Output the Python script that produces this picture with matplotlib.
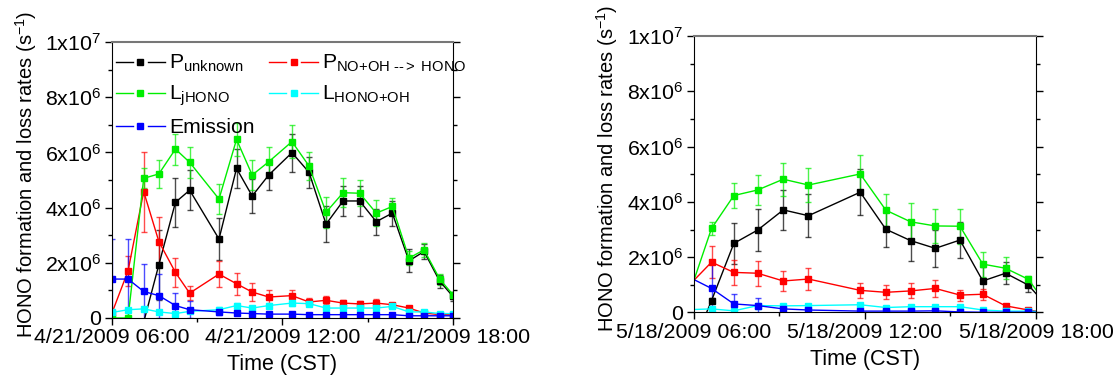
import matplotlib
matplotlib.use("Agg")
import matplotlib.pyplot as plt
import matplotlib.dates as mdates
from matplotlib.colors import to_rgba
from matplotlib.legend_handler import HandlerLine2D
from matplotlib.lines import Line2D
from matplotlib.ticker import FuncFormatter, MultipleLocator
import numpy as np
import pandas as pd

plt.rcParams['font.family'] = ['Liberation Sans', 'DejaVu Sans']
plt.rcParams['mathtext.fontset'] = 'custom'
plt.rcParams['mathtext.rm'] = 'Liberation Sans'
plt.rcParams['mathtext.it'] = 'Liberation Sans:italic'
plt.rcParams['mathtext.bf'] = 'Liberation Sans:bold'

## 21 April 2009 (rates in 1e6 s^-1)
day_a = "2009-04-21"
times_a = ["06:00", "06:34", "07:07", "07:39", "08:14", "08:44", "09:46", "10:23",
           "10:56", "11:31", "12:20", "12:56", "13:32", "14:08", "14:43", "15:18",
           "15:52", "16:27", "16:59", "17:32", "18:00"]
unknown_a = [-1.40, -2.80, -0.15, 1.93, 4.19, 4.63, 2.86, 5.42, 4.42, 5.18, 5.99,
             5.28, 3.40, 4.24, 4.24, 3.49, 3.80, 2.07, 2.41, 1.33, 0.78]
unknown_a_err = [0, 0, 0, 1.27, 0.90, 0.73, 0.77, 0.70, 0.63, 0.56, 0.69,
                 0.57, 0.65, 0.53, 0.53, 0.47, 0.45, 0.42, 0.27, 0.24, 0.15]
no_oh_a = [0.18, 1.71, 4.58, 2.77, 1.65, 0.90, 1.59, 1.24, 0.94, 0.76, 0.81,
           0.58, 0.64, 0.54, 0.51, 0.54, 0.48, 0.36, 0.18, 0.12, 0.12]
no_oh_a_err = [0.05, 0.54, 1.45, 0.90, 0.54, 0.26, 0.48, 0.40, 0.33, 0.24, 0.22,
               0.16, 0.15, 0.12, 0.12, 0.14, 0.08, 0.06, 0.04, 0.03, 0.03]
jhono_a = [0.0, 0.0, 5.06, 5.22, 6.12, 5.64, 4.31, 6.47, 5.18, 5.66, 6.39,
           5.51, 3.83, 4.54, 4.52, 3.80, 4.04, 2.17, 2.47, 1.41, 0.84]
jhono_a_err = [0, 0, 0.36, 0.50, 0.56, 0.56, 0.54, 0.60, 0.54, 0.54, 0.60,
               0.51, 0.57, 0.53, 0.48, 0.48, 0.30, 0.24, 0.26, 0.20, 0.10]
hono_oh_a = [0.20, 0.30, 0.33, 0.22, 0.16, 0.24, 0.30, 0.45, 0.36, 0.45, 0.54,
             0.52, 0.36, 0.36, 0.36, 0.36, 0.42, 0.22, 0.22, 0.16, 0.16]
hono_oh_a_err = [0.06, 0.06, 0.06, 0.06, 0.05, 0.06, 0.08, 0.1, 0.08, 0.1, 0.1,
                 0.1, 0.08, 0.08, 0.08, 0.08, 0.08, 0.06, 0.05, 0.04, 0.04]
emis_a = [1.41, 1.41, 0.96, 0.81, 0.45, 0.30, 0.22, 0.18, 0.16, 0.14, 0.14,
          0.12, 0.12, 0.12, 0.12, 0.12, 0.12, 0.08, 0.08, 0.08, 0.08]
emis_a_err = [1.45, 1.45, 1.00, 0.80, 0.45, 0.30, 0.10, 0.08, 0.06, 0.05, 0.05,
              0.04, 0.04, 0.04, 0.04, 0.04, 0.04, 0.03, 0.03, 0.03, 0.03]

## 18 May 2009
day_b = "2009-05-18"
times_b = ["05:45", "06:37", "07:24", "08:14", "09:08", "10:01", "11:50", "12:44",
           "13:36", "14:28", "15:20", "16:08", "16:56", "17:44", "18:20"]
unknown_b = [-1.71, 0.43, 2.50, 2.98, 3.71, 3.50, 4.35, 3.01, 2.60, 2.32, 2.62,
             1.14, 1.42, 0.99, 0.30]
unknown_b_err = [0, 0.10, 0.73, 0.76, 0.72, 0.77, 0.83, 0.63, 0.75, 0.66, 0.66,
                 0.50, 0.39, 0.26, 0]
no_oh_b = [0.90, 1.82, 1.45, 1.42, 1.14, 1.21, 0.80, 0.73, 0.78, 0.87, 0.63,
           0.66, 0.24, 0.09, 0.0]
no_oh_b_err = [0, 0.58, 0.45, 0.45, 0.36, 0.39, 0.27, 0.25, 0.27, 0.30, 0.20,
               0.20, 0.05, 0.03, 0]
jhono_b = [0.41, 3.04, 4.23, 4.43, 4.82, 4.61, 5.01, 3.70, 3.28, 3.13, 3.12,
           1.75, 1.60, 1.20, 0.35]
jhono_b_err = [0, 0.22, 0.44, 0.54, 0.59, 0.61, 0.68, 0.57, 0.67, 0.60, 0.64,
               0.45, 0.40, 0.12, 0]
hono_oh_b = [0.10, 0.13, 0.06, 0.25, 0.24, 0.25, 0.28, 0.18, 0.21, 0.21, 0.21,
             0.09, 0.05, 0.05, 0.03]
hono_oh_b_err = [0, 0.04, 0.04, 0.06, 0.06, 0.06, 0.08, 0.05, 0.06, 0.06, 0.06,
                 0.04, 0.03, 0.03, 0]
emis_b = [1.32, 0.87, 0.31, 0.25, 0.13, 0.09, 0.05, 0.05, 0.05, 0.06, 0.02,
          0.01, 0.01, 0.01, 0.0]
emis_b_err = [0, 0.90, 0.35, 0.28, 0.05, 0.04, 0.03, 0.03, 0.03, 0.03, 0.02,
              0.02, 0.02, 0.02, 0]

names = [r'P$_{\mathregular{unknown}}$', r'L$_{\mathregular{jHONO}}$', 'Emission',
         'P$_{\\mathregular{NO{+}OH\\ \u2010\u2010{>}\\ HONO}}$',
         r'L$_{\mathregular{HONO{+}OH}}$']
colors = ['#000000', '#00ee00', '#0000ff', '#ff0000', '#00ffff']


class GapLine(HandlerLine2D):
    # legend key drawn as  -- marker --
    def create_artists(self, legend, orig_handle, xdescent, ydescent,
                       width, height, fontsize, trans):
        y = height / 2 - ydescent
        x0 = -xdescent
        gap = 0.16 * width
        arts = []
        for xs in ([x0, x0 + width / 2 - gap], [x0 + width / 2 + gap, x0 + width]):
            seg = Line2D(xs, [y, y])
            self.update_prop(seg, orig_handle, legend)
            seg.set_marker('None')
            seg.set_transform(trans)
            arts.append(seg)
        mk = Line2D([x0 + width / 2], [y])
        self.update_prop(mk, orig_handle, legend)
        mk.set_linestyle('None')
        mk.set_transform(trans)
        arts.append(mk)
        return arts


def yfmt(v, pos):
    if abs(v) < 1:
        return '0'
    if v < 0:
        return ''
    e = int(np.floor(np.log10(v) + 1e-9))
    m = int(round(v / 10 ** e))
    return r'$\mathregular{%dx10^{%d}}$' % (m, e)


def xfmt(v, pos):
    d = mdates.num2date(v)
    return '%d/%d/%d %02d:%02d' % (d.month, d.day, d.year, d.hour, d.minute)


def draw(ax, day, times, series):
    t = pd.to_datetime([day + ' ' + s for s in times])
    for (vals, errs), c in zip(series, ['#000000', '#ff0000', '#00ee00', '#00ffff', '#0000ff']):
        ax.errorbar(t, np.array(vals) * 1e6, yerr=np.array(errs) * 1e6, color=c,
                    marker='s', ms=5, lw=1, elinewidth=1, capsize=2.5, capthick=1,
                    ecolor=to_rgba(c, 0.7))
    start = pd.Timestamp(day + ' 06:00')
    ax.set_xlim(start, start + pd.Timedelta(hours=12))
    ax.set_ylim(0, 1e7)
    ax.xaxis.set_major_locator(mdates.HourLocator(byhour=[6, 12, 18]))
    ax.xaxis.set_minor_locator(mdates.HourLocator(byhour=[9, 15]))
    ax.xaxis.set_major_formatter(FuncFormatter(xfmt))
    ax.yaxis.set_major_locator(MultipleLocator(2e6))
    ax.yaxis.set_minor_locator(MultipleLocator(1e6))
    ax.yaxis.set_major_formatter(FuncFormatter(yfmt))
    ax.tick_params(which='both', direction='out', labelsize=15.4, right=True, top=False)
    ax.tick_params(which='major', length=5, width=1, pad=2.5)
    ax.tick_params(which='minor', length=3, width=1)
    ax.spines['top'].set_color('#777777')
    ax.spines['top'].set_linewidth(1.5)
    ax.set_xlabel('Time (CST)', fontsize=15.5, labelpad=5)
    ax.set_ylabel(r'HONO formation and loss rates (s$^{\mathregular{-1}}$)', fontsize=14.5)
    ax.yaxis.set_label_coords(-0.215, 0.52)


fig = plt.figure(figsize=(11.13, 3.76), dpi=100)
ax1 = fig.add_axes([0.1006, 0.1543, 0.3064, 0.734])
ax2 = fig.add_axes([0.6235, 0.1689, 0.3073, 0.7354])

draw(ax1, day_a, times_a,
     [(unknown_a, unknown_a_err), (no_oh_a, no_oh_a_err), (jhono_a, jhono_a_err),
      (hono_oh_a, hono_oh_a_err), (emis_a, emis_a_err)])
draw(ax2, day_b, times_b,
     [(unknown_b, unknown_b_err), (no_oh_b, no_oh_b_err), (jhono_b, jhono_b_err),
      (hono_oh_b, hono_oh_b_err), (emis_b, emis_b_err)])

handles = [Line2D([], [], color=c, marker='s', ms=5, lw=1) for c in colors]
ax1.legend(handles, names, loc='upper left', bbox_to_anchor=(0, 0.975), ncol=2,
           frameon=False, fontsize=15.2, handlelength=2.3, handletextpad=0.2,
           columnspacing=0.7, labelspacing=0.45, borderaxespad=0.1, borderpad=0.1,
           handler_map={Line2D: GapLine()})

fig.savefig('out.png', dpi=100)
